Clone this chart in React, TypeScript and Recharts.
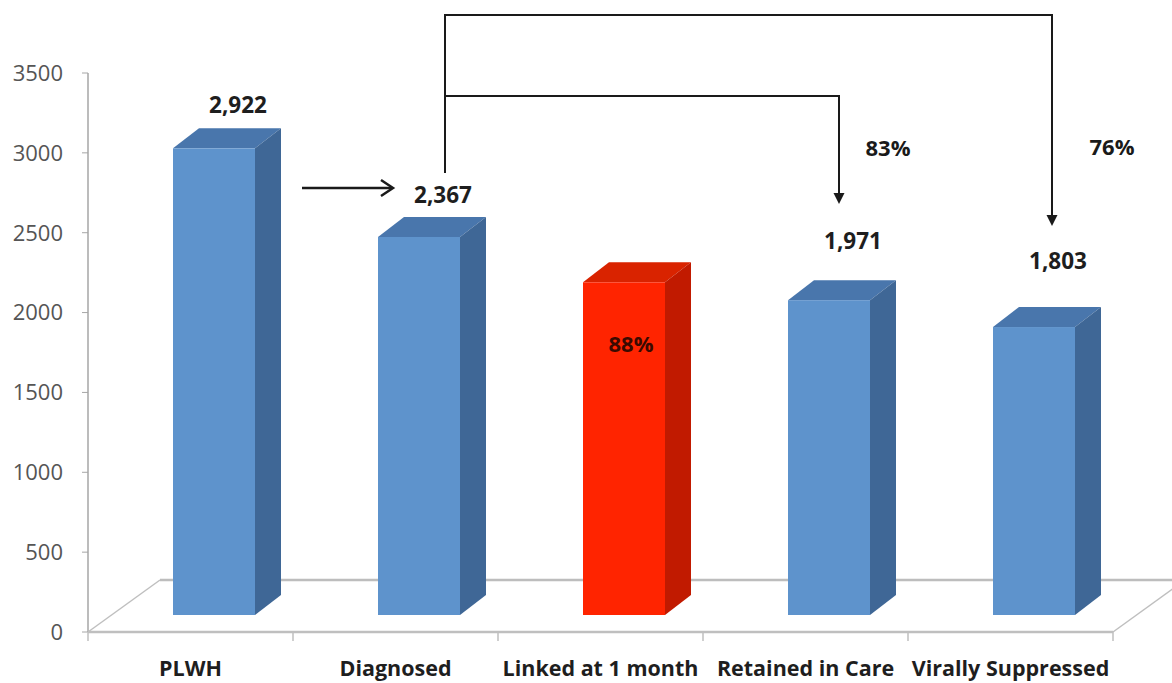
import { BarChart, Bar, XAxis, YAxis, LabelList } from 'recharts'

// care cascade counts
const categories = ['PLWH', 'Diagnosed', 'Linked at 1 month', 'Retained in Care', 'Virally Suppressed']
const counts = [2922, 2367, 2083, 1971, 1803]
const valueLabels = ['2,922', '2,367', '88%', '1,971', '1,803']
const highlighted = [false, false, true, false, false]
const yTicks = [0, 500, 1000, 1500, 2000, 2500, 3000, 3500]
const retainedShare = '83%'
const suppressedShare = '76%'

const W = 1172
const H = 683
const PLOT_LEFT = 88
const PLOT_RIGHT = 1113
const PLOT_TOP = 73
const PLOT_BOTTOM = 632
const BAND = (PLOT_RIGHT - PLOT_LEFT) / categories.length
const Y_MAX = 3500

// 3D box projection
const SHIFT_X = 23
const LIFT = 17
const DEPTH_X = 26
const DEPTH_Y = 20
// how far each value label sits above the back edge of its box
const labelRaise = [24, 22, 0, 40, 47]

const FONT = "'Open Sans', 'DejaVu Sans', sans-serif"

const data = categories.map((name, i) => ({
  name,
  count: counts[i],
  label: valueLabels[i],
}))

const xCenter = (i: number) => PLOT_LEFT + BAND * (i + 0.5)

const palette = (hot: boolean) =>
  hot
    ? { front: '#FF2400', side: '#C11A00', top: '#D92300' }
    : { front: '#5E93CC', side: '#3F6796', top: '#4976AC' }

function Box3D(props: any) {
  const { x, y, width, height, index } = props
  const c = palette(highlighted[index])
  const fx = x + SHIFT_X
  const fy = y - LIFT
  const r = fx + width
  const b = fy + height
  return (
    <g>
      <polygon
        points={`${fx},${fy} ${fx + DEPTH_X},${fy - DEPTH_Y} ${r + DEPTH_X},${fy - DEPTH_Y} ${r},${fy}`}
        fill={c.top}
      />
      <polygon
        points={`${r},${fy} ${r + DEPTH_X},${fy - DEPTH_Y} ${r + DEPTH_X},${b - DEPTH_Y} ${r},${b}`}
        fill={c.side}
      />
      <rect x={fx} y={fy} width={width} height={height} fill={c.front} />
    </g>
  )
}

function ValueLabel(props: any) {
  const { x, y, width, value, index } = props
  const cx = x + SHIFT_X + width / 2
  if (highlighted[index]) {
    return (
      <text x={cx + 7} y={y - LIFT + 61} textAnchor="middle" dominantBaseline="central"
        fontFamily={FONT} fontSize={22} fontWeight={700} fill="#3a0a00">
        {value}
      </text>
    )
  }
  return (
    <text x={cx + DEPTH_X - 2} y={y - LIFT - DEPTH_Y - labelRaise[index]} textAnchor="middle"
      dominantBaseline="central" fontFamily={FONT} fontSize={22.5} fontWeight={700} fill="#1e1e1e">
      {value}
    </text>
  )
}

function CategoryTick(props: any) {
  const { x, payload, index } = props
  const last = index === categories.length - 1
  return (
    <g>
      <line x1={x - BAND / 2} y1={PLOT_BOTTOM} x2={x - BAND / 2} y2={PLOT_BOTTOM + 9} stroke="#BFBFBF" strokeWidth={1.5} />
      {last && (
        <line x1={x + BAND / 2} y1={PLOT_BOTTOM} x2={x + BAND / 2} y2={PLOT_BOTTOM + 9} stroke="#BFBFBF" strokeWidth={1.5} />
      )}
      <text x={x} y={PLOT_BOTTOM + 44} textAnchor="middle" fontFamily={FONT} fontSize={21.5}
        fontWeight={700} fill="#1e1e1e">
        {payload.value}
      </text>
    </g>
  )
}

// floor of the 3D plot plus the cascade arrows
function Backdrop() {
  const floorDx = 72
  const floorDy = 52
  const ink = '#1a1a1a'
  const diagX = xCenter(1) + 49.5
  const retX = xCenter(3) + 33.5
  const supX = xCenter(4) + 41.5
  const head = (tx: number, ty: number) => (
    <polygon points={`${tx - 5.5},${ty - 11} ${tx + 5.5},${ty - 11} ${tx},${ty}`} fill={ink} />
  )
  return (
    <svg width={W} height={H} style={{ position: 'absolute', left: 0, top: 0 }}>
      <line x1={PLOT_LEFT} y1={PLOT_BOTTOM} x2={PLOT_LEFT + floorDx} y2={PLOT_BOTTOM - floorDy} stroke="#BFBFBF" strokeWidth={1.5} />
      <line x1={PLOT_LEFT + floorDx} y1={PLOT_BOTTOM - floorDy} x2={W} y2={PLOT_BOTTOM - floorDy} stroke="#BDBDBD" strokeWidth={2.5} />
      <line x1={PLOT_RIGHT} y1={PLOT_BOTTOM} x2={PLOT_RIGHT + floorDx} y2={PLOT_BOTTOM - floorDy} stroke="#BFBFBF" strokeWidth={1.5} />

      {/* PLWH -> Diagnosed */}
      <line x1={302} y1={188} x2={392} y2={188} stroke={ink} strokeWidth={2.5} />
      <polyline points="381,180 393,188 381,196" fill="none" stroke={ink} strokeWidth={2.5} />

      {/* Diagnosed -> Virally Suppressed */}
      <polyline points={`${diagX},173 ${diagX},15 ${supX},15 ${supX},216`} fill="none" stroke={ink} strokeWidth={2} />
      {head(supX, 226)}
      {/* Diagnosed -> Retained in Care */}
      <polyline points={`${diagX},96 ${retX},96 ${retX},194`} fill="none" stroke={ink} strokeWidth={2} />
      {head(retX, 204)}

      <text x={888} y={147} textAnchor="middle" dominantBaseline="central" fontFamily={FONT}
        fontSize={22} fontWeight={700} fill={ink}>{retainedShare}</text>
      <text x={1112} y={146} textAnchor="middle" dominantBaseline="central" fontFamily={FONT}
        fontSize={22} fontWeight={700} fill={ink}>{suppressedShare}</text>
    </svg>
  )
}

export default function App() {
  return (
    <div style={{ position: 'absolute', left: 0, top: 0, width: W, height: H, background: '#fff' }}>
      <Backdrop />
      <div style={{ position: 'absolute', left: 0, top: 0 }}>
        <BarChart width={W} height={H} data={data}
          margin={{ top: PLOT_TOP, right: W - PLOT_RIGHT, bottom: 0, left: 0 }}>
          <YAxis
            width={PLOT_LEFT}
            domain={[0, Y_MAX]}
            ticks={yTicks}
            interval={0}
            tickSize={6}
            tickMargin={19}
            axisLine={{ stroke: '#A6A6A6', strokeWidth: 1.5 }}
            tickLine={{ stroke: '#A6A6A6' }}
            tick={{ fill: '#555555', fontSize: 22, fontFamily: FONT }}
          />
          <XAxis
            dataKey="name"
            height={H - PLOT_BOTTOM}
            interval={0}
            tickLine={false}
            axisLine={{ stroke: '#BFBFBF', strokeWidth: 2.5 }}
            tick={<CategoryTick />}
          />
          <Bar dataKey="count" barSize={82} shape={<Box3D />} isAnimationActive={false}>
            <LabelList dataKey="label" content={<ValueLabel />} />
          </Bar>
        </BarChart>
      </div>
    </div>
  )
}
